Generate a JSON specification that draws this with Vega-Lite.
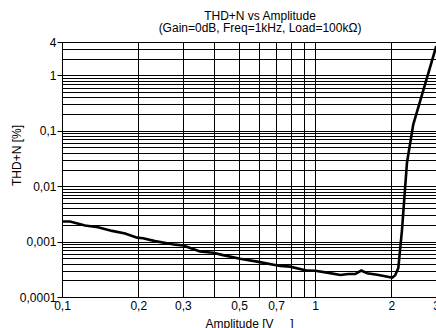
{
  "$schema": "https://vega.github.io/schema/vega-lite/v6.json",
  "autosize": {"type": "none"},
  "padding": {"left": 62, "top": 42, "right": 0, "bottom": 31},
  "width": 374,
  "height": 255,
  "background": "white",
  "config": {
    "font": "Liberation Sans",
    "view": {"stroke": "black", "strokeWidth": 1},
    "axis": {"labelFont": "Liberation Sans", "titleFont": "Liberation Sans", "labelColor": "black", "titleColor": "black", "labelFontSize": 12, "titleFontSize": 12, "titleFontWeight": "normal"}
  },
  "title": {
    "text": ["THD+N vs Amplitude", "(Gain=0dB, Freq=1kHz, Load=100kΩ)"],
    "font": "Liberation Sans",
    "fontSize": 12,
    "fontWeight": "normal",
    "color": "black",
    "anchor": "middle",
    "dx": 11,
    "offset": 1,
    "lineHeight": 12
  },
  "data": {
    "values": [
      {"amp": 0.1, "thd": 0.0023},
      {"amp": 0.1076, "thd": 0.0023},
      {"amp": 0.1233, "thd": 0.00195},
      {"amp": 0.1388, "thd": 0.00182},
      {"amp": 0.1577, "thd": 0.00156},
      {"amp": 0.1775, "thd": 0.0014},
      {"amp": 0.198, "thd": 0.00118},
      {"amp": 0.209, "thd": 0.00115},
      {"amp": 0.233, "thd": 0.00102},
      {"amp": 0.28, "thd": 0.00088},
      {"amp": 0.301, "thd": 0.00085},
      {"amp": 0.351, "thd": 0.00066},
      {"amp": 0.395, "thd": 0.00063},
      {"amp": 0.433, "thd": 0.00057},
      {"amp": 0.505, "thd": 0.00049},
      {"amp": 0.59, "thd": 0.000435},
      {"amp": 0.727, "thd": 0.000364},
      {"amp": 0.796, "thd": 0.000353},
      {"amp": 0.93, "thd": 0.000299},
      {"amp": 1.0, "thd": 0.000297},
      {"amp": 1.115, "thd": 0.000275},
      {"amp": 1.256, "thd": 0.00025},
      {"amp": 1.35, "thd": 0.00026},
      {"amp": 1.439, "thd": 0.00026},
      {"amp": 1.52, "thd": 0.0003},
      {"amp": 1.605, "thd": 0.000268},
      {"amp": 1.758, "thd": 0.000253},
      {"amp": 1.979, "thd": 0.000227},
      {"amp": 2.015, "thd": 0.000223},
      {"amp": 2.07, "thd": 0.000247},
      {"amp": 2.13, "thd": 0.000334},
      {"amp": 2.202, "thd": 0.00163},
      {"amp": 2.304, "thd": 0.0265},
      {"amp": 2.439, "thd": 0.129},
      {"amp": 3.007, "thd": 3.36}
    ]
  },
  "mark": {"type": "line", "color": "black", "strokeWidth": 2.6, "clip": true},
  "encoding": {
    "x": {
      "field": "amp",
      "type": "quantitative",
      "scale": {"type": "log", "domain": [0.1, 3], "nice": false},
      "axis": {
        "title": "Amplitude [V\u00a0\u00a0\u00a0\u00a0\u00a0]",
        "values": [0.1, 0.2, 0.3, 0.4, 0.5, 0.6, 0.7, 0.8, 0.9, 1, 2, 3],
        "labelExpr": "(datum.value == 0.4 || datum.value == 0.6 || datum.value == 0.8 || datum.value == 0.9) ? '' : replace(toString(datum.value), '.', ',')",
        "labelOverlap": false,
        "labelFlush": false,
        "ticks": false,
        "labelPadding": 3,
        "titlePadding": 7,
        "grid": true,
        "gridColor": "black",
        "gridOpacity": 1,
        "gridWidth": 1,
        "domainColor": "black"
      }
    },
    "y": {
      "field": "thd",
      "type": "quantitative",
      "scale": {"type": "log", "domain": [0.0001, 4], "nice": false},
      "axis": {
        "title": "THD+N [%]",
        "values": [0.0001, 0.0002, 0.0003, 0.0004, 0.0005, 0.0006, 0.0007, 0.0008, 0.0009, 0.001, 0.002, 0.003, 0.004, 0.005, 0.006, 0.007, 0.008, 0.009, 0.01, 0.02, 0.03, 0.04, 0.05, 0.06, 0.07, 0.08, 0.09, 0.1, 0.2, 0.3, 0.4, 0.5, 0.6, 0.7, 0.8, 0.9, 1, 2, 3, 4],
        "labelExpr": "(datum.value == 4 || datum.value == 1 || datum.value == 0.1 || datum.value == 0.01 || datum.value == 0.001 || datum.value == 0.0001) ? replace(toString(datum.value), '.', ',') : ''",
        "labelOverlap": false,
        "labelFlush": false,
        "tickSize": 5,
        "tickColor": "black",
        "tickOpacity": {"condition": {"test": "datum.value == 4 || datum.value == 1 || datum.value == 0.1 || datum.value == 0.01 || datum.value == 0.001 || datum.value == 0.0001", "value": 1}, "value": 0},
        "labelPadding": 1,
        "titleX": -46,
        "titleY": 113,
        "titleAngle": 270,
        "titleAlign": "center",
        "titleBaseline": "middle",
        "grid": true,
        "gridColor": "black",
        "gridOpacity": 1,
        "gridWidth": 1,
        "domainColor": "black"
      }
    }
  }
}
